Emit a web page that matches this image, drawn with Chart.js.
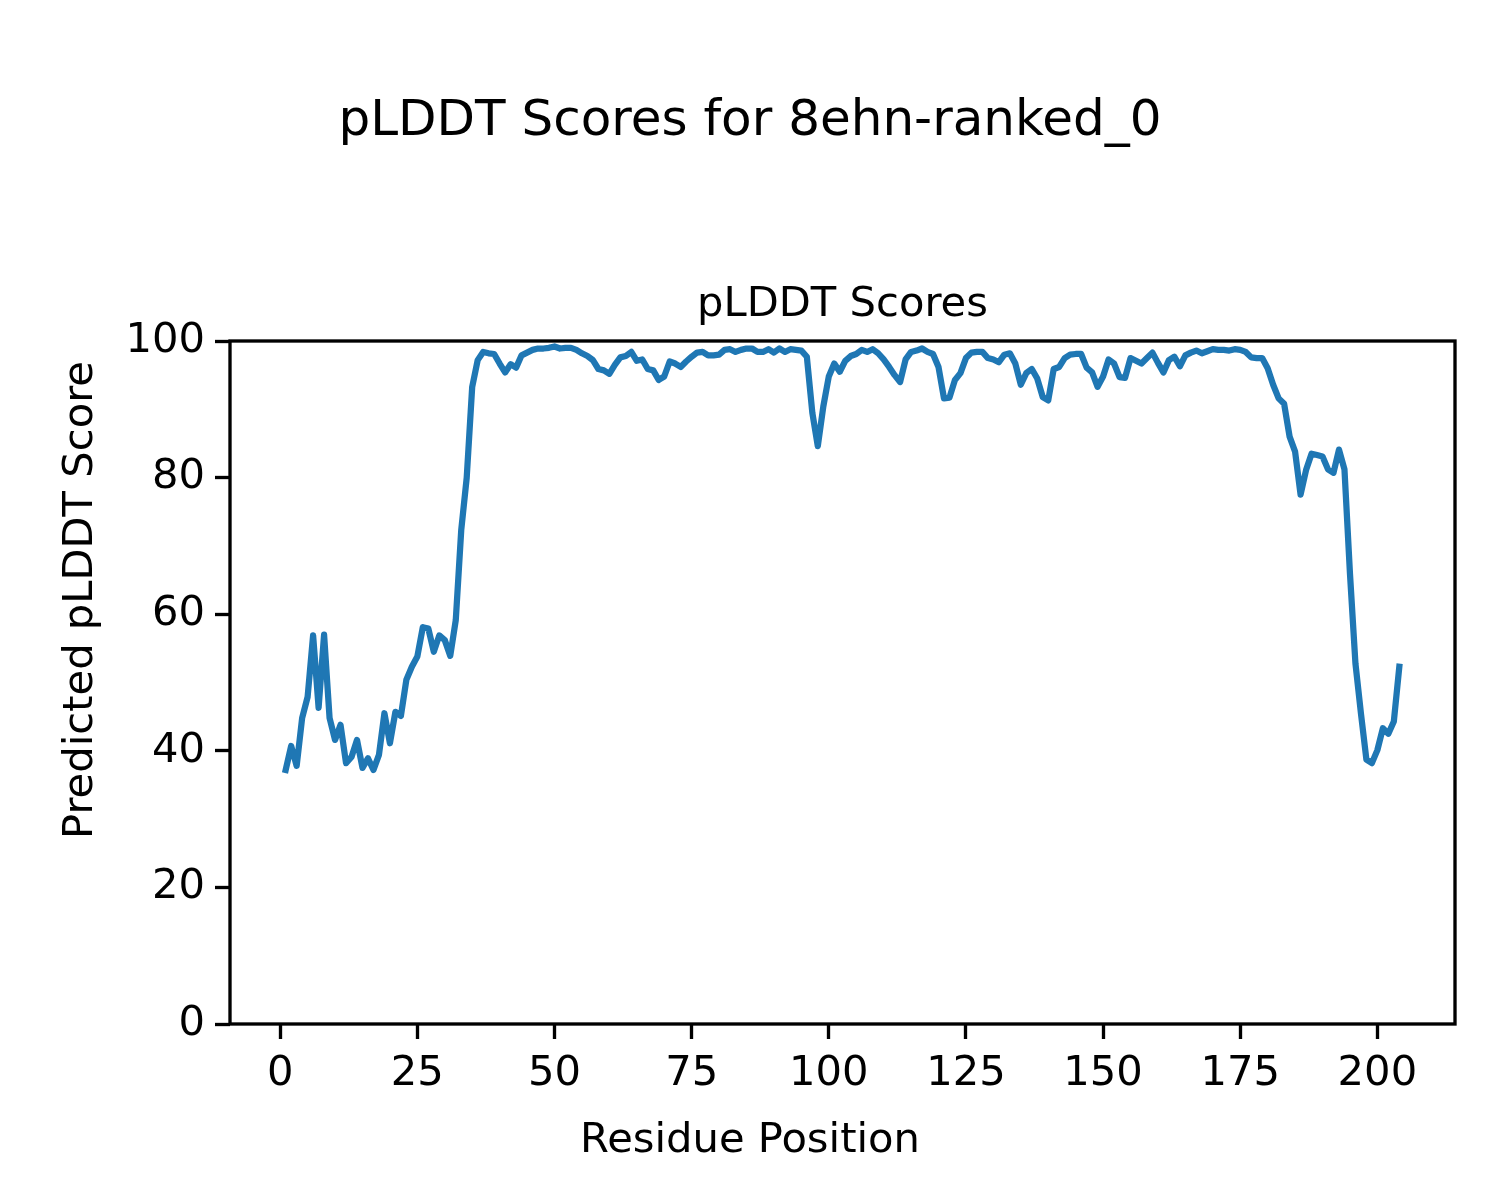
<!DOCTYPE html>
<html>
<head>
<meta charset="utf-8">
<script src="https://cdn.jsdelivr.net/npm/chart.js@4.4.1/dist/chart.umd.min.js"></script>
<style>
  html, body { margin: 0; padding: 0; background: #ffffff; }
  #wrap { width: 1500px; height: 1200px; }
</style>
</head>
<body>
<div id="wrap"><canvas id="c" width="1500" height="1200"></canvas></div>
<script>
const figureTitle = "pLDDT Scores for 8ehn-ranked_0";
const axesTitle = "pLDDT Scores";
const xLabel = "Residue Position";
const yLabel = "Predicted pLDDT Score";
const xTicks = [0, 25, 50, 75, 100, 125, 150, 175, 200];
const yTicks = [0, 20, 40, 60, 80, 100];
const firstResidue = 1;
const plddt = [
  37.2, 40.7, 37.8, 44.8, 47.9, 56.9, 46.3, 57.0, 44.8, 41.6,
  43.8, 38.2, 39.1, 41.6, 37.5, 38.9, 37.2, 39.4, 45.5, 41.1,
  45.7, 45.1, 50.4, 52.3, 53.8, 58.1, 57.9, 54.5, 56.9, 56.2,
  53.9, 59.1, 72.3, 80.0, 93.3, 97.2, 98.4, 98.2, 98.1, 96.7,
  95.4, 96.6, 96.1, 97.9, 98.3, 98.7, 98.9, 98.9, 99.0, 99.2,
  98.9, 99.0, 99.0, 98.7, 98.2, 97.8, 97.2, 95.9, 95.7, 95.2,
  96.5, 97.6, 97.8, 98.4, 97.1, 97.3, 95.9, 95.7, 94.3, 94.8,
  97.0, 96.7, 96.2, 97.0, 97.7, 98.3, 98.4, 97.9, 97.9, 98.0,
  98.7, 98.8, 98.4, 98.7, 98.9, 98.9, 98.4, 98.4, 98.8, 98.3,
  98.9, 98.4, 98.8, 98.7, 98.6, 97.7, 89.5, 84.6, 90.4, 94.8,
  96.7, 95.5, 97.1, 97.8, 98.1, 98.7, 98.4, 98.8, 98.2, 97.3,
  96.2, 95.0, 94.0, 97.3, 98.4, 98.6, 98.9, 98.4, 98.1, 96.2,
  91.6, 91.7, 94.3, 95.3, 97.5, 98.3, 98.4, 98.4, 97.5, 97.3,
  96.9, 98.0, 98.2, 96.7, 93.6, 95.3, 95.9, 94.5, 91.8, 91.3,
  95.9, 96.2, 97.5, 98.0, 98.1, 98.1, 96.1, 95.4, 93.3, 94.8,
  97.3, 96.7, 94.7, 94.6, 97.5, 97.1, 96.7, 97.5, 98.3, 96.8,
  95.4, 97.2, 97.7, 96.3, 97.9, 98.3, 98.6, 98.2, 98.5, 98.8,
  98.7, 98.7, 98.6, 98.8, 98.7, 98.4, 97.6, 97.5, 97.5, 96.0,
  93.6, 91.6, 90.8, 86.0, 83.8, 77.5, 81.1, 83.5, 83.3, 83.1,
  81.2, 80.7, 84.1, 81.2, 66.0, 52.8, 45.5, 38.7, 38.2, 40.1,
  43.3, 42.5, 44.3, 52.3
];

const points = plddt.map((v, i) => ({ x: firstResidue + i, y: v }));
const xMinData = firstResidue, xMaxData = firstResidue + plddt.length - 1;
const xMargin = (xMaxData - xMinData) * 0.05;

const FONT = "'DejaVu Sans', sans-serif";
const SMALL = 41.67;
const LARGE = 50;

const textPlugin = {
  id: 'mplText',
  afterDraw(chart) {
    const ctx = chart.ctx;
    const a = chart.chartArea;
    ctx.save();
    // frame (spines)
    ctx.strokeStyle = '#000000';
    ctx.lineWidth = 3.33;
    ctx.strokeRect(a.left, a.top, a.right - a.left, a.bottom - a.top);
    ctx.fillStyle = '#000000';
    // figure title
    ctx.font = LARGE + 'px ' + FONT;
    ctx.textAlign = 'center';
    ctx.textBaseline = 'alphabetic';
    ctx.fillText(figureTitle, 750, 135);
    // axes title
    ctx.font = SMALL + 'px ' + FONT;
    ctx.fillText(axesTitle, (a.left + a.right) / 2, 316);
    // x label (figure-centred)
    ctx.fillText(xLabel, 750, 1152);
    // y label (figure-centred)
    ctx.translate(92, 600);
    ctx.rotate(-Math.PI / 2);
    ctx.fillText(yLabel, 0, 0);
    ctx.restore();
  }
};

new Chart(document.getElementById('c'), {
  type: 'line',
  data: {
    datasets: [{
      data: points,
      borderColor: '#1f77b4',
      borderWidth: 6.25,
      borderJoinStyle: 'round',
      borderCapStyle: 'square',
      pointRadius: 0,
      tension: 0,
      fill: false
    }]
  },
  options: {
    responsive: false,
    animation: false,
    devicePixelRatio: 1,
    layout: { padding: { top: 341, left: 0, right: 45, bottom: 0 } },
    plugins: { legend: { display: false }, tooltip: { enabled: false }, title: { display: false } },
    scales: {
      x: {
        type: 'linear',
        min: xMinData - xMargin,
        max: xMaxData + xMargin,
        afterBuildTicks(s) { s.ticks = xTicks.map(v => ({ value: v })); },
        afterFit(s) { s.height = 176; },
        grid: { display: true, drawOnChartArea: false, drawTicks: true, tickLength: 15, tickWidth: 3.33, tickColor: '#000000' },
        border: { display: false },
        ticks: { color: '#000000', font: { family: FONT, size: SMALL }, padding: 10, maxRotation: 0, autoSkip: false, callback: v => String(v) }
      },
      y: {
        type: 'linear',
        min: 0,
        max: 100,
        afterBuildTicks(s) { s.ticks = yTicks.map(v => ({ value: v })); },
        afterFit(s) { s.width = 230; },
        grid: { display: true, drawOnChartArea: false, drawTicks: true, tickLength: 15, tickWidth: 3.33, tickColor: '#000000' },
        border: { display: false },
        ticks: { color: '#000000', font: { family: FONT, size: SMALL }, padding: 10, autoSkip: false, callback: v => String(v) }
      }
    }
  },
  plugins: [textPlugin]
});
</script>
</body>
</html>
